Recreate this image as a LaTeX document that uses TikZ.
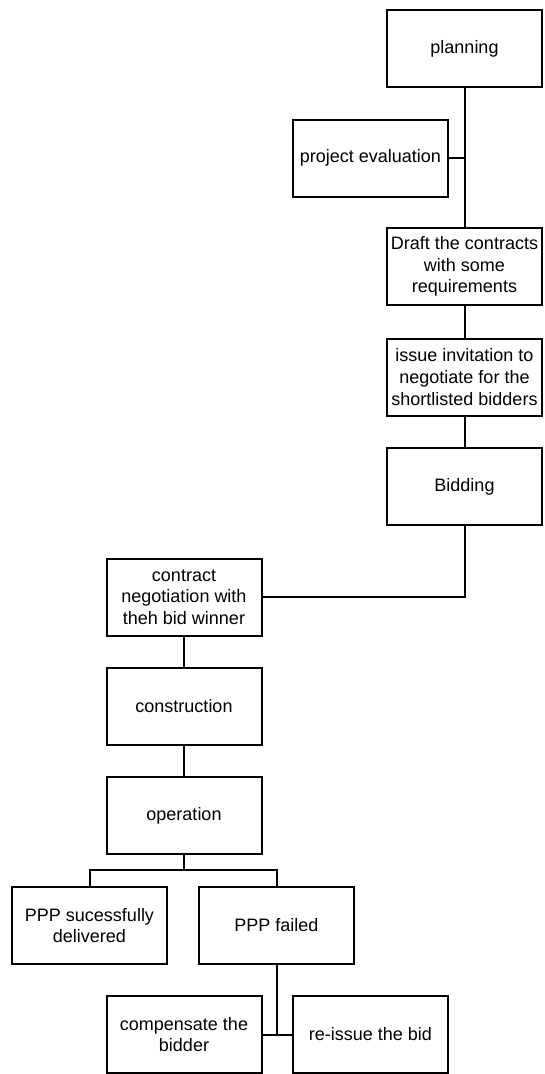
\documentclass[tikz,border=0pt]{standalone}
\usepackage{fontspec}
\setmainfont{Liberation Sans}

\begin{document}
\begin{tikzpicture}[x=1pt,y=-1pt,line width=2pt,
  stepbox/.style={draw,minimum width=155pt,minimum height=77pt,inner sep=2pt,align=center,font=\fontsize{18}{21.7}\selectfont}]

\useasboundingbox (0,0) rectangle (544,1074);

% upper column
\node[stepbox] (plan) at (464.5,48.5) {planning};
\node[stepbox] (eval) at (370.5,158) {project evaluation};
\node[stepbox] (draft) at (464.5,266.5) {Draft the contracts\\with some\\requirements};
\node[stepbox] (invite) at (464.5,377) {issue invitation to\\negotiate for the\\shortlisted bidders};
\node[stepbox] (bid) at (464.5,486.5) {Bidding};

% lower column
\node[stepbox] (nego) at (184,597) {contract\\negotiation with\\theh bid winner};
\node[stepbox] (constr) at (184,706) {construction};
\node[stepbox] (oper) at (184,815.5) {operation};
\node[stepbox] (success) at (89.5,925.5) {PPP sucessfully\\delivered};
\node[stepbox] (failed) at (276.5,925.5) {PPP failed};
\node[stepbox] (comp) at (184,1034.5) {compensate the\\bidder};
\node[stepbox] (reissue) at (370.5,1034.5) {re-issue the bid};

\coordinate (split) at (184,870);

\draw (plan) -- (draft);
\draw (eval.east) -- (eval.east -| plan.south);
\draw (draft) -- (invite);
\draw (invite) -- (bid);
\draw (bid.south) |- (nego.east);
\draw (nego) -- (constr);
\draw (constr) -- (oper);
\draw (oper.south) -- (split);
\draw (success.north) |- (split) -| (failed.north);
\draw (failed.south) -- (failed.south |- comp.east);
\draw (comp.east) -- (reissue.west);

\end{tikzpicture}
\end{document}
